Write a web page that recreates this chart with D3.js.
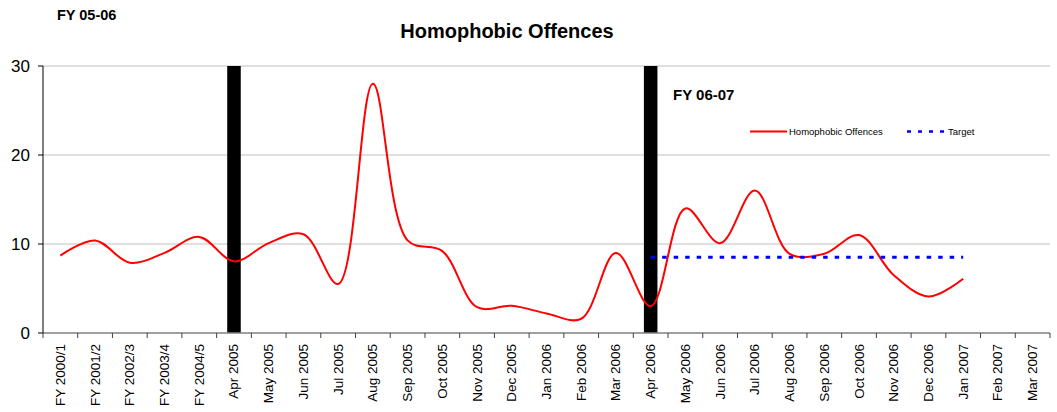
<!DOCTYPE html>
<html><head><meta charset="utf-8">
<script src="https://cdn.jsdelivr.net/npm/d3@7"></script>
<style>body{margin:0;background:#fff}svg{display:block;font-family:"Liberation Sans",Arial,sans-serif}</style>
</head><body><svg id="c" width="1057" height="412"></svg>
<script>
const categories = ["FY 2000/1","FY 2001/2","FY 2002/3","FY 2003/4","FY 2004/5","Apr 2005","May 2005","Jun 2005","Jul 2005","Aug 2005","Sep 2005","Oct 2005","Nov 2005","Dec 2005","Jan 2006","Feb 2006","Mar 2006","Apr 2006","May 2006","Jun 2006","Jul 2006","Aug 2006","Sep 2006","Oct 2006","Nov 2006","Dec 2006","Jan 2007","Feb 2007","Mar 2007"];
const offences = [8.7,10.4,7.9,9.0,10.8,8.05,10.1,11.1,5.5,28.0,10.4,9.2,2.9,3.05,2.2,1.6,9.0,3.0,14.0,10.1,16.0,8.9,8.9,11.0,6.5,4.1,6.1,null,null];
const target = [null,null,null,null,null,null,null,null,null,null,null,null,null,null,null,null,null,8.5,8.5,8.5,8.5,8.5,8.5,8.5,8.5,8.5,8.5,null,null];
const markers = [null,null,null,null,null,30,null,null,null,null,null,null,null,null,null,null,null,30,null,null,null,null,null,null,null,null,null,null,null];
const yTicks = [0,10,20,30];

const svg = d3.select("#c");
const L=43,R=1050,T=66,B=333;
const x = d3.scaleBand().domain(categories).range([L,R]).padding(0);
const y = d3.scaleLinear().domain([0,30]).range([B,T]);
const cx = c => x(c)+x.bandwidth()/2;

// gridlines
svg.append("g").selectAll("line").data(yTicks.filter(d=>d>0)).join("line")
  .attr("x1",L).attr("x2",R).attr("y1",d=>y(d)).attr("y2",d=>y(d))
  .attr("stroke","#c0c0c0").attr("stroke-width",1);

// marker bars
const bw = x.bandwidth()*0.39;
svg.append("g").selectAll("rect").data(categories.map((c,i)=>({c,v:markers[i]})).filter(d=>d.v!=null)).join("rect")
  .attr("x",d=>cx(d.c)-bw/2).attr("width",bw).attr("y",d=>y(d.v)).attr("height",d=>y(0)-y(d.v)).attr("fill","#000");

// x axis
const xa = svg.append("g");
xa.append("line").attr("x1",L).attr("x2",R).attr("y1",B).attr("y2",B).attr("stroke","#808080").attr("stroke-width",1.5);
const bounds = d3.range(categories.length+1).map(i=>L+i*x.bandwidth());
xa.selectAll("line.t").data(bounds).join("line").attr("class","t")
  .attr("x1",d=>d).attr("x2",d=>d).attr("y1",B).attr("y2",B+5).attr("stroke","#404040").attr("stroke-width",1);
xa.selectAll("text").data(categories).join("text")
  .attr("transform",d=>`translate(${cx(d)+4.5},${B+11}) rotate(-90)`)
  .attr("text-anchor","end").attr("font-size",13.5).attr("fill","#000").text(d=>d);

// y axis
const ya = svg.append("g");
ya.append("line").attr("x1",L).attr("x2",L).attr("y1",T).attr("y2",B).attr("stroke","#000").attr("stroke-width",1);
ya.selectAll("line.t").data(yTicks).join("line").attr("class","t")
  .attr("x1",L-5).attr("x2",L).attr("y1",d=>y(d)).attr("y2",d=>y(d)).attr("stroke","#000");
ya.selectAll("text").data(yTicks).join("text")
  .attr("x",30).attr("y",d=>y(d)+6).attr("text-anchor","end").attr("font-size",17).text(d=>d);

// lines
const pts = (arr)=>categories.map((c,i)=>({c,v:arr[i]})).filter(d=>d.v!=null);
const line = d3.line().x(d=>cx(d.c)).y(d=>y(d.v)).curve(d3.curveCatmullRom.alpha(0.5));
svg.append("path").datum(pts(offences)).attr("d",line).attr("fill","none").attr("stroke","#ff0000").attr("stroke-width",2);
const tline = d3.line().x(d=>cx(d.c)).y(d=>y(d.v));
svg.append("path").datum(pts(target)).attr("d",tline).attr("fill","none").attr("stroke","#0000ff").attr("stroke-width",3).attr("stroke-dasharray","4.5,7");

// titles
svg.append("text").attr("x",507).attr("y",38).attr("text-anchor","middle").attr("font-weight","bold").attr("font-size",20).text("Homophobic Offences");
svg.append("text").attr("x",57).attr("y",20).attr("font-weight","bold").attr("font-size",14.5).text("FY 05-06");
svg.append("text").attr("x",673).attr("y",100).attr("font-weight","bold").attr("font-size",15).text("FY 06-07");

// legend
const lg = svg.append("g");
lg.append("line").attr("x1",750).attr("x2",787).attr("y1",131.5).attr("y2",131.5).attr("stroke","#ff0000").attr("stroke-width",2);
lg.append("text").attr("x",789).attr("y",135).attr("font-size",9.5).text("Homophobic Offences");
lg.append("line").attr("x1",907).attr("x2",946).attr("y1",131.5).attr("y2",131.5).attr("stroke","#0000ff").attr("stroke-width",2.5).attr("stroke-dasharray","4,7");
lg.append("text").attr("x",948).attr("y",135).attr("font-size",9.5).text("Target");
</script></body></html>
